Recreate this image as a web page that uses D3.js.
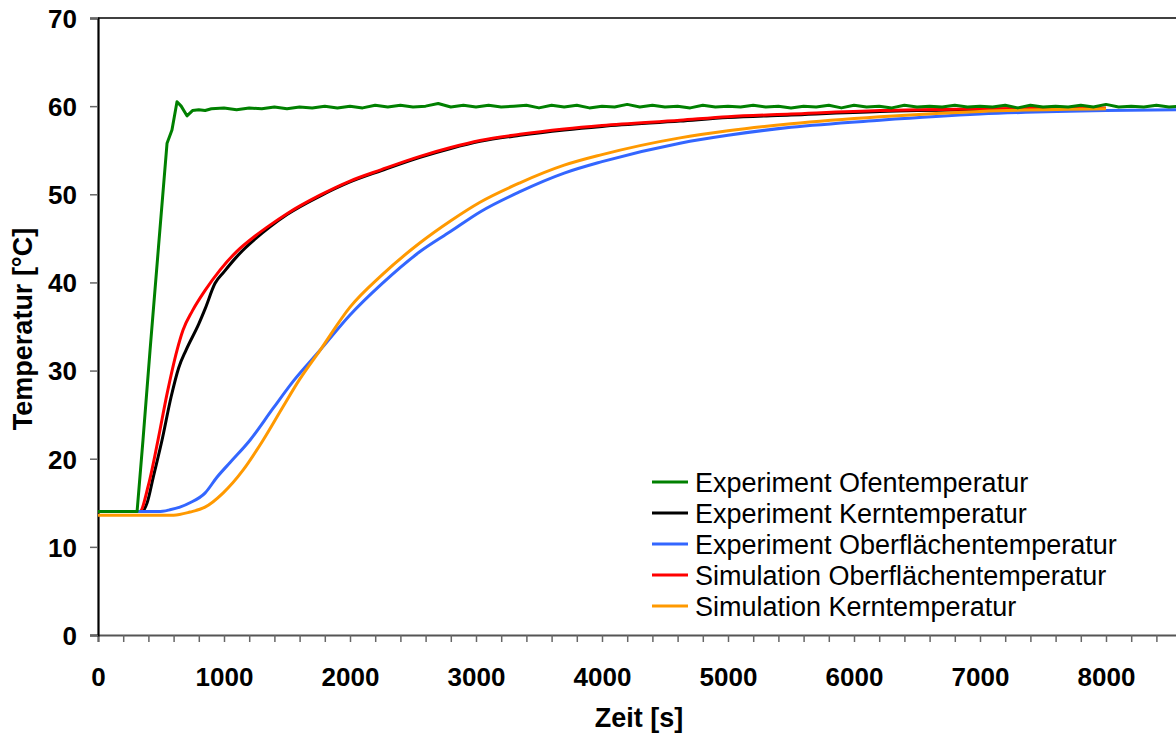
<!DOCTYPE html>
<html>
<head>
<meta charset="utf-8">
<script src="https://cdn.jsdelivr.net/npm/d3@7"></script>
<style>
  html, body { margin: 0; padding: 0; background: #fff; }
  svg { display: block; }
</style>
</head>
<body>
<svg id="chart" width="1176" height="736"></svg>
<script>
// ---------- data ----------
const xTicks = [0, 1000, 2000, 3000, 4000, 5000, 6000, 7000, 8000];
const yTicks = [0, 10, 20, 30, 40, 50, 60, 70];
const seriesNames = [
  "Experiment Ofentemperatur",
  "Experiment Kerntemperatur",
  "Experiment Oberflächentemperatur",
  "Simulation Oberflächentemperatur",
  "Simulation Kerntemperatur"
];
const seriesColors = ["#008000", "#000000", "#3366FF", "#FF0000", "#FF9900"];

// Experiment Ofentemperatur [time s, temp °C]
const ofen = [
  [0,14],[310,14],[357,22.1],[413,32.3],[480,44],[548,55.8],[587,57.3],[627,60.5],[660,60.0],
  [706,58.9],[750,59.5],[800,59.6],[850,59.5],
  [900,59.7],[1000,59.8],[1100,59.6],[1200,59.8],[1300,59.7],[1400,59.9],[1500,59.7],[1600,59.9],
  [1700,59.8],[1800,60.0],[1900,59.8],[2000,60.0],[2100,59.8],[2200,60.1],[2300,59.9],[2400,60.1],
  [2500,59.9],[2600,60.0],[2700,60.3],[2800,59.9],[2900,60.1],[3000,59.9],[3100,60.1],[3200,59.9],
  [3300,60.0],[3400,60.1],[3500,59.8],[3600,60.1],[3700,59.9],[3800,60.1],[3900,59.8],[4000,60.0],
  [4100,59.9],[4200,60.2],[4300,59.9],[4400,60.1],[4500,59.9],[4600,60.0],[4700,59.8],[4800,60.1],
  [4900,59.9],[5000,60.0],[5100,59.9],[5200,60.1],[5300,59.9],[5400,60.0],[5500,59.8],[5600,60.0],
  [5700,59.9],[5800,60.1],[5900,59.8],[6000,60.1],[6100,59.9],[6200,60.0],[6300,59.8],[6400,60.1],
  [6500,59.9],[6600,60.0],[6700,59.9],[6800,60.1],[6900,59.9],[7000,60.0],[7100,59.9],[7200,60.1],
  [7300,59.8],[7400,60.1],[7500,59.9],[7600,60.0],[7700,59.9],[7800,60.1],[7900,59.9],[8000,60.2],
  [8100,59.9],[8200,60.0],[8300,59.9],[8400,60.1],[8500,59.9],[8600,60.0]
];

// Experiment Kerntemperatur
const expKern = [
  [0,14],[350,14],[390,15],[440,18],[508,22.1],[580,27],[640,30.3],[698,32.3],[800,35.3],[850,37.0],
  [929,39.9],[1000,41.2],[1100,42.9],[1262,45.1],[1365,46.3],[1500,47.7],[1762,49.8],[2000,51.4],
  [2250,52.7],[2556,54.2],[2800,55.2],[3032,56.0],[3349,56.7],[3700,57.3],[4000,57.7],[4619,58.3],
  [5000,58.7],[5500,59.0],[6206,59.4],[7000,59.6],[8000,59.7]
];

// Experiment Oberflächentemperatur
const expOber = [
  [0,14],[480,14],[571,14.2],[650,14.5],[730,15.0],[849,16.1],[944,17.9],[1050,19.6],[1206,22.1],
  [1389,25.7],[1550,28.8],[1762,32.3],[2000,36.3],[2250,39.8],[2556,43.5],[2800,45.8],[3032,48.0],
  [3349,50.3],[3700,52.4],[4000,53.7],[4619,55.8],[5000,56.7],[5500,57.6],[6206,58.4],[7000,59.1],
  [8000,59.5],[8600,59.6]
];

// Simulation Oberflächentemperatur
const simOber = [
  [0,14],[330,14],[400,17],[476,22.1],[550,27.5],[627,32.3],[675,34.6],[750,36.8],[850,39.1],
  [968,41.4],[1100,43.5],[1250,45.3],[1365,46.5],[1500,47.8],[1762,49.9],[2000,51.5],[2250,52.8],
  [2556,54.3],[2800,55.3],[3032,56.1],[3349,56.8],[3700,57.4],[4000,57.8],[4619,58.4],[5000,58.8],
  [5500,59.1],[6206,59.5],[7000,59.7],[8000,59.8]
];

// Simulation Kerntemperatur
const simKern = [
  [0,13.6],[600,13.6],[730,13.95],[849,14.5],[992,16.1],[1151,18.7],[1310,22.1],[1460,25.7],
  [1600,29.0],[1762,32.3],[2000,37.2],[2250,40.8],[2556,44.5],[2800,47.0],[3032,49.1],[3349,51.3],
  [3700,53.3],[4000,54.5],[4619,56.4],[5000,57.2],[5500,58.0],[6206,58.8],[7000,59.4],[8000,59.7]
];

// ---------- chart ----------
(function () {
const svg = d3.select("#chart");
const mLeft = 98, mTop = 18, mBottom = 635;
const x = d3.scaleLinear().domain([0, 9000]).range([mLeft, mLeft + 9 * 126]);
const y = d3.scaleLinear().domain([0, 70]).range([mBottom, mTop]);

const tickFont = "'Liberation Sans', Arial, sans-serif";

// top border
svg.append("line")
  .attr("x1", mLeft).attr("x2", 1176).attr("y1", mTop).attr("y2", mTop)
  .attr("stroke", "#000").attr("stroke-width", 1.5);

// x axis
const xMinor = d3.range(0, 9001, 200);
const xAxis = svg.append("g").attr("transform", `translate(0,${mBottom})`)
  .call(d3.axisBottom(x).tickValues(xMinor).tickSize(7)
    .tickFormat(d => xTicks.includes(d) ? d : ""));
xAxis.select(".domain").attr("stroke", "#555").attr("stroke-width", 2);
xAxis.selectAll(".tick line").attr("stroke", "#666").attr("stroke-width", 1.5);
xAxis.selectAll(".tick text")
  .attr("font-family", tickFont).attr("font-weight", "bold").attr("font-size", 26)
  .attr("fill", "#000").attr("dy", "0").attr("y", 51);

// y axis
const yAxis = svg.append("g").attr("transform", `translate(${mLeft},0)`)
  .call(d3.axisLeft(y).tickValues(yTicks).tickSize(8).tickPadding(13));
yAxis.select(".domain").attr("stroke", "#000").attr("stroke-width", 2.2);
yAxis.selectAll(".tick line").attr("stroke", "#666").attr("stroke-width", 1.5);
yAxis.selectAll(".tick text")
  .attr("font-family", tickFont).attr("font-weight", "bold").attr("font-size", 26)
  .attr("fill", "#000").attr("dy", "0.36em");

// axis titles
svg.append("text")
  .attr("x", 639).attr("y", 727)
  .attr("text-anchor", "middle")
  .attr("font-family", tickFont).attr("font-weight", "bold").attr("font-size", 27)
  .text("Zeit [s]");
svg.append("text")
  .attr("transform", "translate(32,329) rotate(-90)")
  .attr("text-anchor", "middle")
  .attr("font-family", tickFont).attr("font-weight", "bold").attr("font-size", 27)
  .text("Temperatur [°C]");

// lines
const smooth = d3.line().x(d => x(d[0])).y(d => y(d[1])).curve(d3.curveMonotoneX);
const straight = d3.line().x(d => x(d[0])).y(d => y(d[1]));

const drawOrder = [
  { data: expKern, idx: 1, gen: smooth },
  { data: simOber, idx: 3, gen: smooth },
  { data: expOber, idx: 2, gen: smooth },
  { data: simKern, idx: 4, gen: smooth },
  { data: ofen, idx: 0, gen: straight }
];
const plot = svg.append("g");
drawOrder.forEach(s => {
  plot.append("path")
    .attr("d", s.gen(s.data))
    .attr("fill", "none")
    .attr("stroke", seriesColors[s.idx])
    .attr("stroke-width", 3)
    .attr("stroke-linejoin", "round");
});

// legend
const legend = svg.append("g");
seriesNames.forEach((name, i) => {
  const ly = 482 + i * 31;
  legend.append("line")
    .attr("x1", 652).attr("x2", 688).attr("y1", ly).attr("y2", ly)
    .attr("stroke", seriesColors[i]).attr("stroke-width", 3);
  legend.append("text")
    .attr("x", 695).attr("y", ly).attr("dy", "0.36em")
    .attr("font-family", tickFont).attr("font-size", 27)
    .attr("fill", "#000")
    .text(name);
});
})();
</script>
</body>
</html>
